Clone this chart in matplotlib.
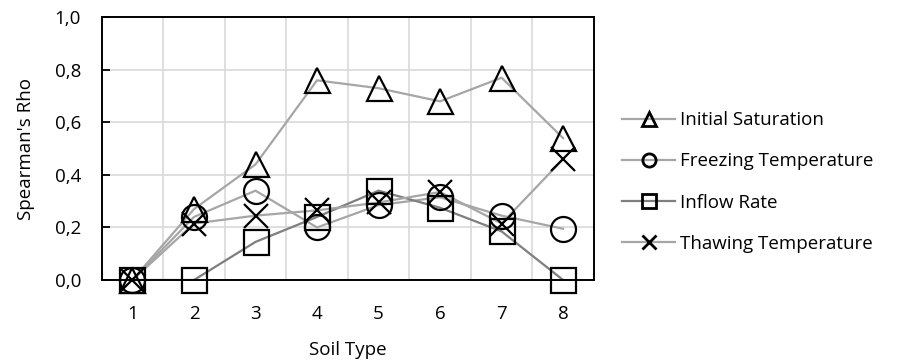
import matplotlib.pyplot as plt
from matplotlib.lines import Line2D
from matplotlib.ticker import FuncFormatter

plt.rcParams['font.family'] = ['Open Sans', 'DejaVu Sans']

# data
soil_type = [1, 2, 3, 4, 5, 6, 7, 8]
initial_saturation = [0.0, 0.27, 0.44, 0.76, 0.73, 0.68, 0.77, 0.54]
freezing_temperature = [0.0, 0.24, 0.34, 0.20, 0.285, 0.315, 0.245, 0.195]
inflow_rate = [0.0, 0.0, 0.145, 0.24, 0.34, 0.275, 0.185, 0.0]
thawing_temperature = [0.0, 0.215, 0.245, 0.265, 0.295, 0.335, 0.215, 0.46]

series = [
    ("Initial Saturation", initial_saturation, '^', '#a6a6a6'),
    ("Freezing Temperature", freezing_temperature, 'o', '#a6a6a6'),
    ("Inflow Rate", inflow_rate, 's', '#7f7f7f'),
    ("Thawing Temperature", thawing_temperature, 'x', '#a6a6a6'),
]

fig = plt.figure(figsize=(9.01, 3.64), dpi=100)
ax = fig.add_axes([0.1129, 0.2308, 0.5462, 0.7217])

handles = []
for name, vals, mk, col in series:
    ax.plot(soil_type, vals, color=col, lw=1.6, zorder=2)
    ax.plot(soil_type, vals, ls='none', marker=mk, ms=18 if mk != 'x' else 17,
            mfc='none', mec='black', mew=1.6, zorder=3, clip_on=False)
    handles.append(Line2D([], [], color=col, lw=1.6, marker=mk, ms=9.5,
                          mfc='none', mec='black', mew=2.0, label=name))

ax.set_xlim(0.5, 8.5)
ax.set_ylim(0, 1.0)
ax.set_xticks(soil_type)
ax.set_yticks([0, 0.2, 0.4, 0.6, 0.8, 1.0])
ax.yaxis.set_major_formatter(FuncFormatter(lambda v, p: f"{v:.1f}".replace('.', ',')))
ax.set_xticks([i + 0.5 for i in range(1, 8)], minor=True)
ax.grid(True, which='minor', axis='x', color='#d9d9d9', lw=1.2)
ax.grid(True, which='major', axis='y', color='#d9d9d9', lw=1.2)
ax.set_axisbelow(True)
ax.tick_params(axis='x', which='both', length=0, labelsize=13.5, pad=18)
ax.tick_params(axis='y', direction='in', length=6, width=1.3, labelsize=13.5, pad=15)
for s in ax.spines.values():
    s.set_linewidth(1.4)

ax.set_xlabel("Soil Type", fontsize=13.5, labelpad=13)
ax.set_ylabel("Spearman's Rho", fontsize=13.5, labelpad=14)

fig.legend(handles=handles, loc='center left', bbox_to_anchor=(622 / 901, 0.5),
           frameon=False, fontsize=13.5, handlelength=2.83, handletextpad=0.27,
           labelspacing=1.23, borderpad=0, borderaxespad=0)

fig.savefig("out.png", dpi=100)
